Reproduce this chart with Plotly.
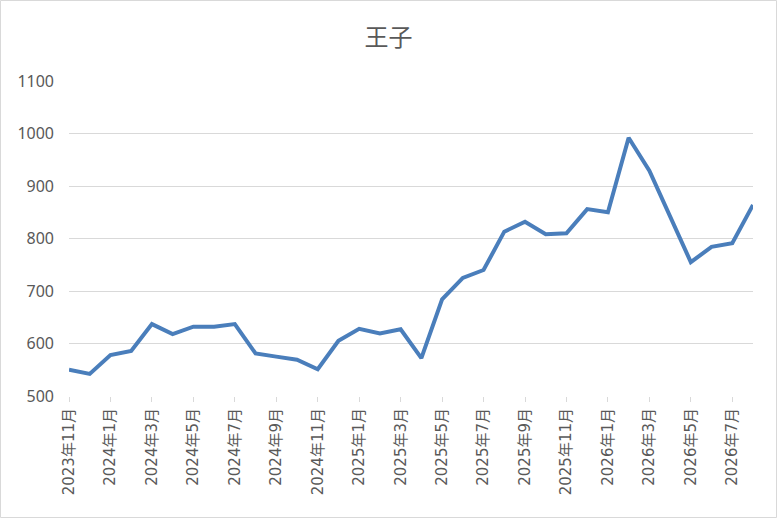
import plotly.graph_objects as go

months = []
for y, m in [(2023, 11), (2023, 12)] + [(2024, k) for k in range(1, 13)] + [(2025, k) for k in range(1, 13)] + [(2026, k) for k in range(1, 9)]:
    months.append(f"{y}年{m}月")

values = [550, 542, 578, 586, 637, 618, 632, 632, 637, 581,
          575, 569, 551, 605, 628, 619, 627, 572, 684, 725,
          740, 813, 832, 808, 810, 856, 850, 992, 929, 840,
          755, 784, 791, 864]

title_text = "王子"

xidx = list(range(len(months)))
tickvals = xidx[::2]
ticktext = months[::2]

fig = go.Figure()
fig.add_trace(go.Scatter(
    x=xidx, y=values, mode="lines",
    line=dict(color="#4A7EBB", width=4),
    hoverinfo="skip", showlegend=False,
))

grey = "#595959"

fig.update_layout(
    width=777, height=518,
    margin=dict(l=69, r=24, t=81, b=122),
    paper_bgcolor="white", plot_bgcolor="white",
    font=dict(family="Noto Sans, Noto Sans CJK JP, sans-serif", color=grey, size=13),
    title=dict(text=title_text, x=0.5, xanchor="center", y=0.927, yanchor="middle",
               font=dict(size=24, color=grey, family="Noto Sans CJK JP, sans-serif")),
    xaxis=dict(
        range=[0, len(months) - 1],
        tickmode="array", tickvals=tickvals, ticktext=ticktext,
        tickangle=-90, ticks="outside", ticklen=5, tickcolor="#D9D9D9",
        showgrid=False, showline=False, zeroline=False,
        tickfont=dict(size=15, color=grey, family="DejaVu Sans, Noto Sans CJK JP, sans-serif"),
    ),
    yaxis=dict(
        range=[500, 1100], dtick=100, tick0=500,
        showgrid=True, gridcolor="#D9D9D9", gridwidth=1,
        zeroline=False, showline=False, ticks="",
        ticklabelstandoff=14,
        tickfont=dict(size=16, color=grey, family="Noto Sans, sans-serif"),
    ),
    shapes=[dict(
        type="rect", xref="paper", yref="paper",
        x0=(0.5 - 69) / 684, x1=(776.5 - 69) / 684,
        y0=(396 - 517.5) / 315, y1=(396 - 0.5) / 315,
        line=dict(color="#D9D9D9", width=1), fillcolor="rgba(0,0,0,0)", layer="below",
    )],
)

fig.write_html("out.html", config={"displayModeBar": False},
               post_script="document.body.style.margin='0';document.body.style.overflow='hidden';")
